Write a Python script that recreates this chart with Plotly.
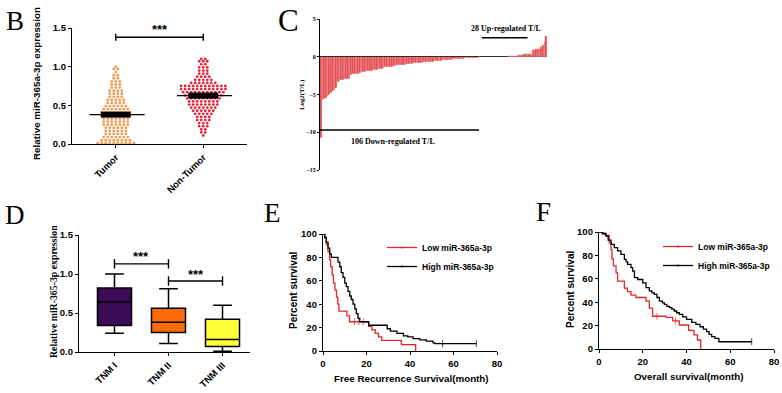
import plotly.graph_objects as go

W, H = 782, 393
def fx(x): return x / W
def fy(y): return 1 - y / H

# ---------------- DATA ----------------
# Panel B : beeswarm rows (value level, number of dots in that row)
b_groups = ["Tumor", "Non-Tumor"]
tumor_levels = [1.00, 0.97, 0.93, 0.89, 0.85, 0.81, 0.77, 0.73, 0.69, 0.65, 0.61, 0.57, 0.53,
                0.49, 0.45, 0.41, 0.37, 0.33, 0.29, 0.25, 0.21, 0.17, 0.13, 0.09, 0.05, 0.01]
tumor_counts = [1, 2, 1, 2, 2, 3, 3, 3, 4, 4, 4, 5, 5, 6, 7, 8, 8, 7, 7, 7, 6, 6, 6, 7, 8, 10]
normal_levels = [1.10, 1.07, 1.03, 0.99, 0.95, 0.91, 0.87, 0.83, 0.79, 0.75, 0.71, 0.67, 0.63,
                 0.59, 0.55, 0.51, 0.47, 0.43, 0.39, 0.35, 0.31, 0.27, 0.23, 0.19, 0.15, 0.11]
normal_counts = [2, 3, 2, 3, 3, 3, 4, 5, 7, 12, 12, 11, 10, 9, 8, 8, 7, 6, 5, 4, 4, 3, 3, 2, 2, 1]

# Panel C : sorted log2(T/L) per patient
log2_TL = [-10.8,
           -5.7, -5.6, -5.5, -5.2, -5.1, -4.8, -4.6, -4.4, -4.2, -3.3, -3.2,
           -3.1, -3.05, -3.0, -3.0, -2.95, -2.9,
           -2.4, -2.35, -2.3, -2.3, -2.25, -2.2,
           -2.05, -2.0, -2.0, -1.95, -1.95, -1.9, -1.85, -1.8,
           -1.7, -1.7, -1.65, -1.65, -1.6, -1.55,
           -1.4, -1.35, -1.3, -1.3, -1.3, -1.25, -1.2,
           -1.15, -1.1, -1.1, -1.1, -1.05, -1.05, -1.0,
           -0.95, -0.9, -0.9, -0.88, -0.85, -0.85, -0.82, -0.8, -0.78,
           -0.72, -0.7, -0.7, -0.68, -0.66, -0.64, -0.62, -0.6,
           -0.55, -0.52, -0.5, -0.48, -0.46, -0.44, -0.42, -0.4, -0.38, -0.36, -0.34, -0.32,
           -0.3, -0.28, -0.26, -0.24, -0.22,
           -0.2, -0.18, -0.16, -0.15, -0.13, -0.12, -0.1, -0.09, -0.08, -0.07, -0.06, -0.05,
           -0.04, -0.04, -0.03, -0.03, -0.02, -0.02, -0.01, -0.01,
           0.01, 0.01, 0.02, 0.02, 0.03, 0.04, 0.05,
           0.08, 0.1, 0.12, 0.15, 0.18, 0.22,
           0.28, 0.3, 0.32, 0.35, 0.38, 0.42,
           0.9, 0.95, 1.0, 1.0, 1.05, 1.25, 1.5, 1.9, 2.75]

# Panel D : box statistics
stages = ["TNM I", "TNM II", "TNM III"]
d_min = [0.24, 0.11, 0.01]
d_q1 = [0.34, 0.25, 0.07]
d_med = [0.64, 0.38, 0.16]
d_q3 = [0.82, 0.56, 0.42]
d_max = [1.00, 0.81, 0.60]
d_colors = ["#3c0b58", "#ff6a0a", "#ffff3a"]

# Panel E : recurrence-free survival (step times, survival %, censor times)
e_low_t = [0, 0.8, 1.5, 2.3, 3.0, 3.5, 4.2, 4.8, 5.5, 6.2, 6.8, 7.3, 11.0, 12.2, 21.0, 22.5, 24.0, 25.5, 27.0, 36.0, 42.6]
e_low_s = [100, 97, 91, 85, 78, 72, 65, 58, 52, 46, 40, 34, 30, 25, 21, 18, 15, 12, 9, 5.5, 0]
e_low_c = [14.5, 16.5, 18.5]
e_high_t = [0, 0.8, 1.5, 2.3, 3.1, 3.8, 6.9, 7.7, 8.4, 9.2, 10.0, 10.7, 11.5, 12.3, 13.0, 13.8, 14.6, 15.3,
            16.1, 16.9, 21.0, 29.5, 31.0, 34.0, 37.0, 39.0, 41.4, 44.5, 47.5, 50.6, 51.4]
e_high_s = [100, 97, 93, 88, 83, 80, 76, 72, 67, 63, 58, 55, 51, 47, 44, 40, 36, 32, 28, 25, 22, 19, 17, 15,
            13, 12, 10.5, 9.5, 8.5, 7, 6.3]
e_high_c = [55, 70.5]

# Panel F : overall survival
f_low_t = [0, 2.0, 3.0, 4.7, 5.5, 5.9, 6.6, 7.8, 8.5, 11.6, 13.0, 14.6, 16.9, 21.5, 23.0, 24.5, 30.6, 33.7,
           36.7, 41.0, 43.4, 45.0, 46.5]
f_low_s = [100, 99, 97, 91, 85, 77, 71, 65, 58, 52, 49, 46, 44, 41, 35, 28, 27, 24, 20.5, 16, 12, 7.7, 0]
f_low_c = [26.5, 35.0]
f_high_t = [0, 1.5, 3.2, 4.2, 5.5, 7.0, 8.5, 10.0, 11.6, 12.4, 13.1, 14.6, 15.4, 16.2, 17.7, 20.0, 21.5, 23.0,
            24.2, 25.3, 26.5, 27.6, 29.0, 29.9, 31.0, 32.2, 33.3, 34.4, 35.5, 36.7, 38.3, 40.0, 42.4, 44.3,
            46.2, 47.7, 49.2, 50.3, 51.5, 53.0, 54.8]
f_high_s = [100, 98.5, 96.6, 93, 89.5, 86.6, 83.8, 80.9, 76.6, 74.5, 72.4, 69.5, 66.6, 61, 59.4, 56.6, 52.4,
            49.6, 48, 46.7, 44, 41, 39.5, 38.2, 36.5, 35.3, 34, 32.5, 31, 29.6, 27.5, 25.4, 22.8, 21, 19,
            17, 14.8, 12.5, 10.5, 9, 6.2]
f_high_c = [69.8]

# ---------------- STYLE ----------------
ARIAL = "Liberation Sans, Arial, sans-serif"
TIMES = "Liberation Serif, Times New Roman, serif"
RED_KM = "#e0262e"
tick_b = dict(family=ARIAL, size=9.5, color="black", weight="bold")

fig = go.Figure()

# ---- Panel B ----
def swarm(levels, counts, center, dx=0.046):
    xs, ys = [], []
    for v, n in zip(levels, counts):
        for i in range(n):
            xs.append(center + (i - (n - 1) / 2) * dx)
            ys.append(v)
    return xs, ys

for gi, (lv, ct, col) in enumerate([(tumor_levels, tumor_counts, "#f29a4e"),
                                     (normal_levels, normal_counts, "#e2263c")]):
    xs, ys = swarm(lv, ct, gi)
    fig.add_trace(go.Scatter(x=xs, y=ys, mode="markers", xaxis="x", yaxis="y",
                             marker=dict(size=2.8, color=col, line=dict(width=0)),
                             cliponaxis=False, showlegend=False))
    mean = sum(v * n for v, n in zip(lv, ct)) / sum(ct)
    fig.add_trace(go.Scatter(x=[gi - 0.3, gi + 0.33], y=[mean, mean], mode="lines", xaxis="x", yaxis="y",
                             line=dict(color="black", width=1.4), showlegend=False))
    fig.add_trace(go.Scatter(x=[gi - 0.17, gi + 0.17], y=[mean, mean], mode="lines", xaxis="x", yaxis="y",
                             line=dict(color="black", width=6), showlegend=False))

def bracket(x0, x1, yv, dy, xa, ya):
    fig.add_trace(go.Scatter(x=[x0, x0, None, x0, x1, None, x1, x1],
                             y=[yv - dy, yv + dy, None, yv, yv, None, yv - dy, yv + dy],
                             mode="lines", xaxis=xa, yaxis=ya, line=dict(color="black", width=1.4),
                             cliponaxis=False, showlegend=False))

bracket(0, 1, 1.38, 0.045, "x", "y")

# ---- Panel C ----
fig.add_trace(go.Bar(x=list(range(len(log2_TL))), y=log2_TL, xaxis="x2", yaxis="y2",
                     marker=dict(color="#e2434b", line=dict(color="rgba(255,235,235,0.6)", width=0.3)),
                     showlegend=False))

# ---- Panel D ----
for i in range(3):
    fig.add_trace(go.Box(x=[i], q1=[d_q1[i]], median=[d_med[i]], q3=[d_q3[i]],
                         lowerfence=[d_min[i]], upperfence=[d_max[i]],
                         xaxis="x3", yaxis="y3", width=0.63, whiskerwidth=0.55,
                         fillcolor=d_colors[i], line=dict(color="black", width=1.5),
                         boxpoints=False, showlegend=False))
bracket(0, 1, 1.13, 0.06, "x3", "y3")
bracket(1, 2, 0.91, 0.06, "x3", "y3")

# ---- Panels E/F ----
def km(t, s, cens, color, name, xa, ya, legend):
    pts = [(ti, si, 0) for ti, si in zip(t, s)]
    for c in cens:
        val = s[0]
        for ti, si in zip(t, s):
            if ti <= c:
                val = si
        pts.append((c, val, 1))
    pts.sort(key=lambda p: p[0])
    fig.add_trace(go.Scatter(x=[p[0] for p in pts], y=[p[1] for p in pts],
                             mode="lines+markers", line=dict(color=color, width=1.3, shape="hv"),
                             marker=dict(symbol="line-ns", size=[5 if p[2] else 0 for p in pts],
                                         line=dict(color=color, width=1)),
                             name=name, xaxis=xa, yaxis=ya, legend=legend, cliponaxis=False))

km(e_low_t, e_low_s, e_low_c, RED_KM, "Low miR-365a-3p", "x4", "y4", "legend")
km(e_high_t, e_high_s, e_high_c, "black", "High miR-365a-3p", "x4", "y4", "legend")
km(f_low_t, f_low_s, f_low_c, RED_KM, "Low miR-365a-3p", "x5", "y5", "legend2")
km(f_high_t, f_high_s, f_high_c, "black", "High miR-365a-3p", "x5", "y5", "legend2")

# ---------------- LAYOUT ----------------
ax = dict(showline=True, linecolor="black", linewidth=1.3, ticks="outside", ticklen=3,
          tickwidth=1.3, tickcolor="black", showgrid=False, zeroline=False, tickfont=tick_b,
          automargin=False)

legend_font = dict(family=ARIAL, size=8.5, color="black", weight="bold")
layout = dict(
    width=W, height=H, autosize=False, margin=dict(l=0, r=0, t=0, b=0, pad=0, autoexpand=False),
    paper_bgcolor="white", plot_bgcolor="white", boxmode="overlay", bargap=0,
    xaxis=dict(ax, domain=[fx(72), fx(247)], range=[-0.5, 1.5], tickvals=[0, 1], ticktext=b_groups,
               tickangle=-45, anchor="y"),
    yaxis=dict(ax, domain=[fy(144), fy(28)], range=[0, 1.5], tickvals=[0, 0.5, 1.0, 1.5],
               tickformat=".1f", anchor="x"),
    xaxis2=dict(domain=[fx(320), fx(547)], range=[-0.5, len(log2_TL) - 0.5], visible=False, anchor="y2"),
    yaxis2=dict(ax, domain=[fy(170), fy(19)], range=[-15, 5], tickvals=[5, 0, -5, -10, -15],
                anchor="x2", zeroline=True, zerolinecolor="black", zerolinewidth=1.4, ticklen=2,
                linewidth=1, tickwidth=1,
                tickfont=dict(family=TIMES, size=6, color="black", weight="bold")),
    xaxis3=dict(ax, domain=[fx(79), fx(250)], range=[-0.657, 2.509], tickvals=[0, 1, 2], ticktext=stages,
                tickangle=-45, anchor="y3"),
    yaxis3=dict(ax, domain=[fy(352), fy(235)], range=[0, 1.5], tickvals=[0, 0.5, 1.0, 1.5],
                tickformat=".1f", anchor="x3"),
    xaxis4=dict(ax, domain=[fx(323), fx(497)], range=[0, 80], tickvals=[0, 20, 40, 60, 80], anchor="y4"),
    yaxis4=dict(ax, domain=[fy(351), fy(234)], range=[0, 100], tickvals=[0, 20, 40, 60, 80, 100], anchor="x4"),
    xaxis5=dict(ax, domain=[fx(599), fx(774)], range=[0, 80], tickvals=[0, 20, 40, 60, 80], anchor="y5"),
    yaxis5=dict(ax, domain=[fy(349), fy(232)], range=[0, 100], tickvals=[0, 20, 40, 60, 80, 100], anchor="x5"),
    legend=dict(x=fx(382), y=fy(233), xanchor="left", yanchor="top", bgcolor="rgba(0,0,0,0)",
                font=legend_font, itemwidth=30, tracegroupgap=0),
    legend2=dict(x=fx(658), y=fy(232), xanchor="left", yanchor="top", bgcolor="rgba(0,0,0,0)",
                 font=legend_font, itemwidth=30, tracegroupgap=0),
)
fig.update_layout(**layout)

def ann(text, x, y, size, family=ARIAL, angle=0, bold=True, **kw):
    fig.add_annotation(text=text, x=fx(x), y=fy(y), xref="paper", yref="paper", showarrow=False,
                       textangle=angle, xanchor="center", yanchor="middle",
                       font=dict(family=family, size=size, color="black", weight="bold" if bold else "normal"),
                       **kw)

# panel letters
ann("B", 15, 21, 27, TIMES, bold=False)
ann("C", 288, 21, 31, TIMES, bold=False)
ann("D", 15, 215, 27, TIMES, bold=False)
ann("E", 272, 213, 27, TIMES, bold=False)
ann("F", 543, 212, 27, TIMES, bold=False)

# axis titles
ann("Relative miR-365a-3p expression", 36, 84, 9.8, angle=-90)
ann("Log2(T/L)", 302, 95, 6.8, TIMES, angle=-90)
ann("Relative miR-365-3p expression", 53, 292, 9.8, TIMES, angle=-90)
ann("Percent survival", 293, 291, 10, angle=-90)
ann("Free Recurrence Survival(month)", 412, 378, 9.8)
ann("Percent survival", 570, 290, 10, angle=-90)
ann("Overall survival(month)", 688, 376, 9.8)

# stars
for xa, ya, xv, yv in [("x", "y", 0.5, 1.48), ("x3", "y3", 0.5, 1.22), ("x3", "y3", 1.5, 1.0)]:
    fig.add_annotation(text="***", x=xv, y=yv, xref=xa, yref=ya, showarrow=False,
                       font=dict(family=ARIAL, size=13, color="black", weight="bold"))

# panel C texts
ann("28 Up-regulated T/L", 506, 29, 8, TIMES)
ann("106 Down-regulated T/L", 393, 141, 8, TIMES)
fig.add_shape(type="line", xref="x2", yref="y2", x0=95, x1=122, y0=2.5, y1=2.5,
              line=dict(color="black", width=1.5))
fig.add_shape(type="line", xref="x2", yref="y2", x0=-0.5, x1=93.4, y0=-9.7, y1=-9.7,
              line=dict(color="black", width=1.5))

# page body has a default 8px margin; remove it so the figure fills the window exactly
fig.write_html("out.html", config={"displayModeBar": False},
               post_script="document.body.style.margin='0px';document.body.style.overflow='hidden';")
